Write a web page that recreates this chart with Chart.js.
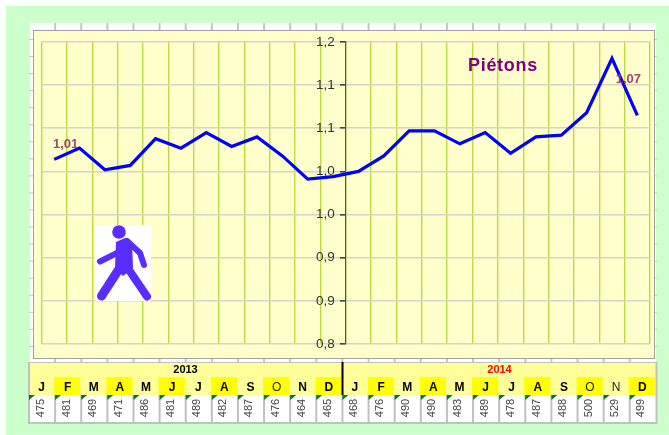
<!DOCTYPE html>
<html><head><meta charset="utf-8">
<style>html,body{margin:0;padding:0;background:#fff}canvas{display:block}</style>
<script src="https://cdn.jsdelivr.net/npm/chart.js@4"></script></head>
<body><canvas id="c" width="669" height="435"></canvas>
<script>
const months2 = ["J","F","M","A","M","J","J","A","S","O","N","D","J","F","M","A","M","J","J","A","S","O","N","D"];
const counts = [475,481,469,471,486,481,489,482,487,476,464,465,468,476,490,490,483,489,478,487,488,500,529,499];
const indexValues = [1.014,1.027,1.002,1.007,1.038,1.027,1.045,1.029,1.040,1.018,0.991,0.994,1.000,1.018,1.047,1.047,1.032,1.045,1.021,1.040,1.042,1.068,1.131,1.065];
const yearLabels = ["2013","2014"];
const yTicks = [0.8,0.85,0.9,0.95,1.0,1.05,1.1,1.15];
const yTickLabels = ["0,8","0,9","0,9","1,0","1,0","1,1","1,1","1,2"];
const firstLabel = "1,01", lastLabel = "1,07";
const title = "Piétons";
const SANS = '"Liberation Sans", Arial, sans-serif';
const CELL0 = 29, CELLW = 26.12;
const HILITE = [1,3,5,7,9,11];
const NORMAL = [9,21,22];

function drawBackdrop(ctx){
  ctx.fillStyle='#fff';ctx.fillRect(0,0,669,435);
  ctx.fillStyle='#CCFFCC';ctx.fillRect(6,6,663,429);
  ctx.fillStyle='#fff';ctx.fillRect(30,23,626,339);
  ctx.fillStyle='#C4C4C4';
  for(let i=1;i<24;i++){const x=CELL0+i*CELLW;ctx.fillRect(x-1,23,2,8);ctx.fillRect(x-1,359,2,3);}
  for(let i=0;i<19;i++){const y=39+i*17.05;ctx.fillRect(29,y,4,1);ctx.fillRect(655,y,2,1);}
  ctx.fillStyle='#FFFFCC';ctx.fillRect(33.5,30.5,621,328);
  ctx.strokeStyle='#A0A0A0';ctx.lineWidth=1;ctx.strokeRect(33.5,30.5,621,328);
}
function drawTable(ctx){
  ctx.fillStyle='#FFFF99';ctx.fillRect(28,362,629,33);
  ctx.fillStyle='#fff';ctx.fillRect(28,395,629,27);
  months2.forEach((m,i)=>{
    const x=CELL0+i*CELLW;
    if(HILITE.includes(i%12)){ctx.fillStyle='#FFFF00';ctx.fillRect(x-1,377,CELLW,18);}
  });
  ctx.fillStyle='#C0C0C0';
  ctx.fillRect(28,362,2,62);ctx.fillRect(655.5,362,2,62);ctx.fillRect(28,422,629,2);ctx.fillRect(28,362,629,1);
  ctx.textAlign='center';ctx.textBaseline='middle';
  months2.forEach((m,i)=>{
    const x=CELL0+i*CELLW;
    if(i>0){ctx.fillStyle='#C0C0C0';ctx.fillRect(x-1,395,2,28);}
    const cx=x+12.5;
    const normal=NORMAL.includes(i);
    ctx.fillStyle=normal?'#222':'#000';
    ctx.font=(normal?'':'bold ')+'12px '+SANS;
    ctx.fillText(m,cx,387.5);
    ctx.fillStyle='#007A1E';ctx.beginPath();ctx.moveTo(x,395);ctx.lineTo(x+6,395);ctx.lineTo(x,400);ctx.closePath();ctx.fill();
    ctx.save();ctx.translate(cx-1,408);ctx.rotate(-Math.PI/2);
    ctx.fillStyle='#444';ctx.font='11px '+SANS;ctx.fillText(String(counts[i]),0,0);ctx.restore();
  });
  ctx.font='bold 11px '+SANS;
  ctx.fillStyle='#000';ctx.fillText(yearLabels[0],185.5,369.5);
  ctx.fillStyle='#FF0000';ctx.fillText(yearLabels[1],499.5,369.5);
  ctx.fillStyle='#000';ctx.fillRect(341.5,362,2,33);
}
function drawWalker(ctx){
  ctx.fillStyle='#fff';ctx.fillRect(95,225,56,76);
  ctx.fillStyle=ctx.strokeStyle='#5A2DFF';
  ctx.beginPath();ctx.arc(119,232,6.8,0,7);ctx.fill();
  ctx.beginPath();ctx.moveTo(116,242);ctx.lineTo(125,238);ctx.lineTo(132,243);ctx.lineTo(133,268);ctx.lineTo(123,276);ctx.lineTo(115,268);ctx.closePath();ctx.fill();
  ctx.lineCap='round';ctx.lineJoin='round';
  ctx.lineWidth=6;
  ctx.beginPath();ctx.moveTo(119,252);ctx.lineTo(100,261.5);ctx.stroke();
  ctx.beginPath();ctx.moveTo(127,241);ctx.lineTo(140,253);ctx.lineTo(144,265);ctx.stroke();
  ctx.lineWidth=9;
  ctx.beginPath();ctx.moveTo(121,266);ctx.lineTo(101.5,296);ctx.stroke();
  ctx.lineWidth=8;
  ctx.beginPath();ctx.moveTo(127,267);ctx.lineTo(147,296.5);ctx.stroke();
}
const decor={id:'decor',
  beforeDraw(ch){drawBackdrop(ch.ctx);drawTable(ch.ctx);},
  afterDatasetsDraw(ch){
    const c=ch.ctx,{x,y}=ch.scales;
    drawWalker(c);
    c.save();
    c.textAlign='left';c.textBaseline='middle';
    c.fillStyle='#800080';c.font='bold 18px '+SANS;c.letterSpacing='0.7px';c.fillText(title,468,66.5);c.letterSpacing='0px';
    c.fillStyle='rgba(153,51,102,0.9)';c.font='bold 13px '+SANS;
    c.textAlign='center';
    c.fillText(firstLabel,x.getPixelForValue(0)+11.5,y.getPixelForValue(indexValues[0])-15);
    c.fillText(lastLabel,x.getPixelForValue(23)-9,y.getPixelForValue(indexValues[23])-35.5);
    c.restore();
  }};
new Chart(document.getElementById('c'),{
  type:'line',
  data:{labels:months2,datasets:[{data:indexValues,borderColor:'#0000FF',borderWidth:3.2,pointRadius:0,tension:0,fill:false,borderJoinStyle:'miter'}]},
  options:{responsive:false,animation:false,devicePixelRatio:1,
    layout:{padding:{left:41.5,right:19,top:42,bottom:91}},
    plugins:{legend:{display:false},tooltip:{enabled:false},title:{display:false}},
    scales:{
      x:{type:'category',offset:true,ticks:{display:false},border:{display:false},
         grid:{offset:true,color:'#BBDB44',lineWidth:1.4,drawTicks:false}},
      y:{position:'center',min:0.8,max:1.15,
         afterBuildTicks(s){s.ticks=yTicks.map(v=>({value:v}));},
         ticks:{padding:6,color:'#333',font:{family:SANS,size:13.5},callback:(v,i)=>yTickLabels[i]},
         border:{display:true,color:'#555',width:1.2},
         grid:{color:'#D4D4C6',lineWidth:1.6,tickColor:'#444',tickLength:5}}
    }},
  plugins:[decor]});
</script></body></html>
